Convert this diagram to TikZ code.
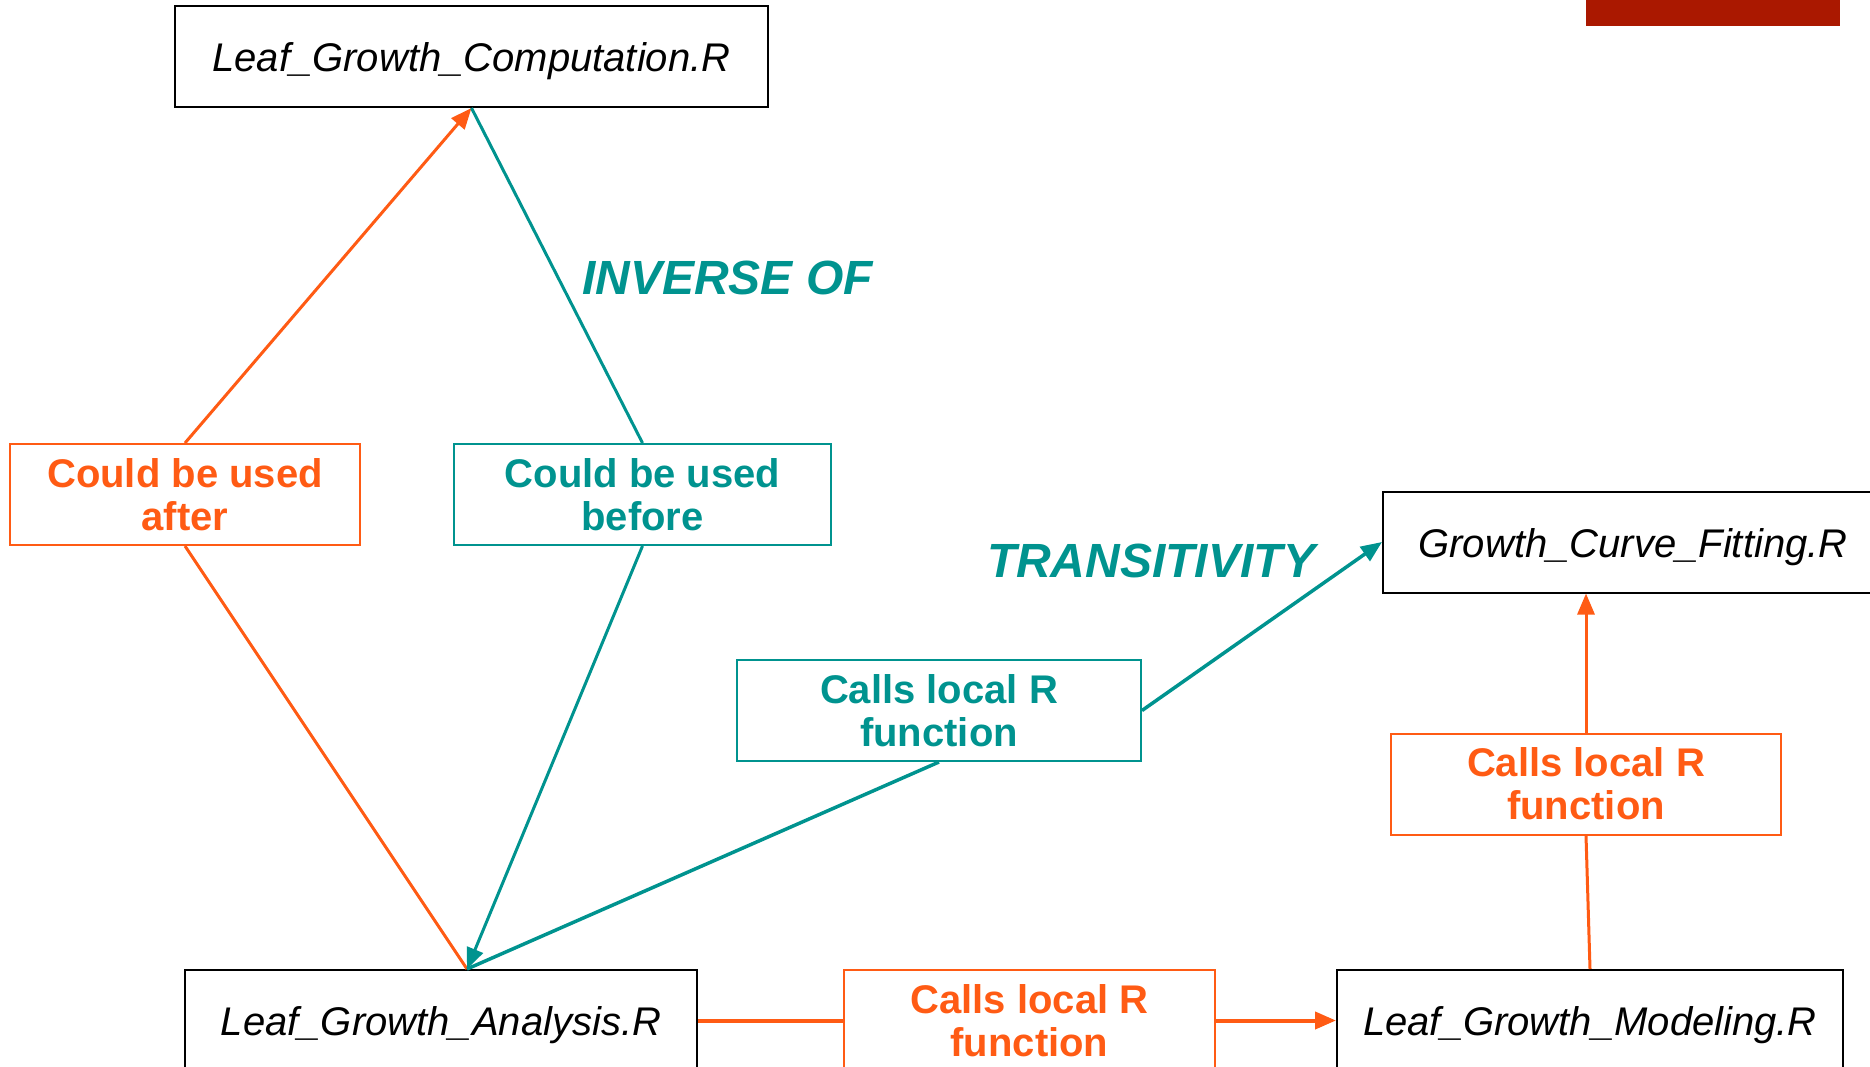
\documentclass[tikz,border=0pt]{standalone}
\usepackage{fontspec}
\setmainfont{Liberation Sans}
\usetikzlibrary{arrows.meta,calc}
\definecolor{accorange}{RGB}{255,91,20}
\definecolor{accteal}{RGB}{0,147,143}
\definecolor{accred}{RGB}{170,24,0}
\begin{document}
\begin{tikzpicture}[x=1pt,y=-1pt,
  filebox/.style={draw=black, line width=2pt, inner sep=0pt, minimum height=101pt,
    text height=30.6pt, text depth=0pt,
    font=\fontsize{40}{43}\selectfont\itshape},
  tagbox/.style={draw=#1, text=#1, line width=2pt, inner sep=0pt, minimum height=101pt,
    align=center, font=\fontsize{40}{43}\selectfont\bfseries},
  relword/.style={text=accteal, inner sep=0pt,
    font=\fontsize{48}{50}\selectfont\bfseries\itshape},
  link/.style={draw=#1, line width=3pt},
  arrowed/.style={-{Triangle[length=21pt,width=17pt]}}
]
\useasboundingbox (0,0) rectangle (1870,1067);

% corner bar
\fill[accred] (1586,0) rectangle (1840,26);

% script files
\node[filebox, minimum width=593pt] (comp)  at (471.5,56.5) {Leaf\_Growth\_Computation.R};
\node[filebox, minimum width=500pt] (fit)   at (1633,542)   {Growth\_Curve\_Fitting.R};
\node[filebox, minimum width=512pt] (ana)   at (441,1020.5) {Leaf\_Growth\_Analysis.R};
\node[filebox, minimum width=506pt] (model) at (1590,1020.5) {Leaf\_Growth\_Modeling.R};

% relation tags
\node[tagbox=accorange, minimum width=350pt] (after)  at (185,494.5)  {Could be used\\after};
\node[tagbox=accteal,   minimum width=377pt] (before) at (642.5,494.5) {Could be used\\before};
\node[tagbox=accteal,   minimum width=404pt] (callsT) at (939,710.5)  {Calls local R\\function};
\node[tagbox=accorange, minimum width=390pt] (callsR) at (1586,784)   {Calls local R\\function};
\node[tagbox=accorange, minimum width=371pt] (callsB) at (1029.5,1020.5) {Calls local R\\function};

% property words
\node[relword] (inv)   at (727.5,278) {INVERSE OF};
\node[relword] (trans) at (1151,560.5) {TRANSITIVITY};

\coordinate (anaTop) at ([xshift=26pt]ana.north);

% orange links
\draw[link=accorange, arrowed] (after.north) -- (comp.south);
\draw[link=accorange] (after.south) -- (anaTop);
\draw[link=accorange, line width=4pt] (ana.east) -- (callsB.west);
\draw[link=accorange, line width=4pt, arrowed] (callsB.east) -- (model.west);
\draw[link=accorange] (model.north) -- (callsR.south);
\draw[link=accorange, arrowed] (callsR.north) -- (callsR.north |- fit.south);

% teal links
\draw[link=accteal] (comp.south) -- (before.north);
\draw[link=accteal, arrowed] (before.south) -- (anaTop);
\draw[link=accteal, line width=3.5pt] (callsT.south) -- (anaTop);
\draw[link=accteal, line width=3.5pt, arrowed] (callsT.east) -- (fit.west);
\end{tikzpicture}
\end{document}
